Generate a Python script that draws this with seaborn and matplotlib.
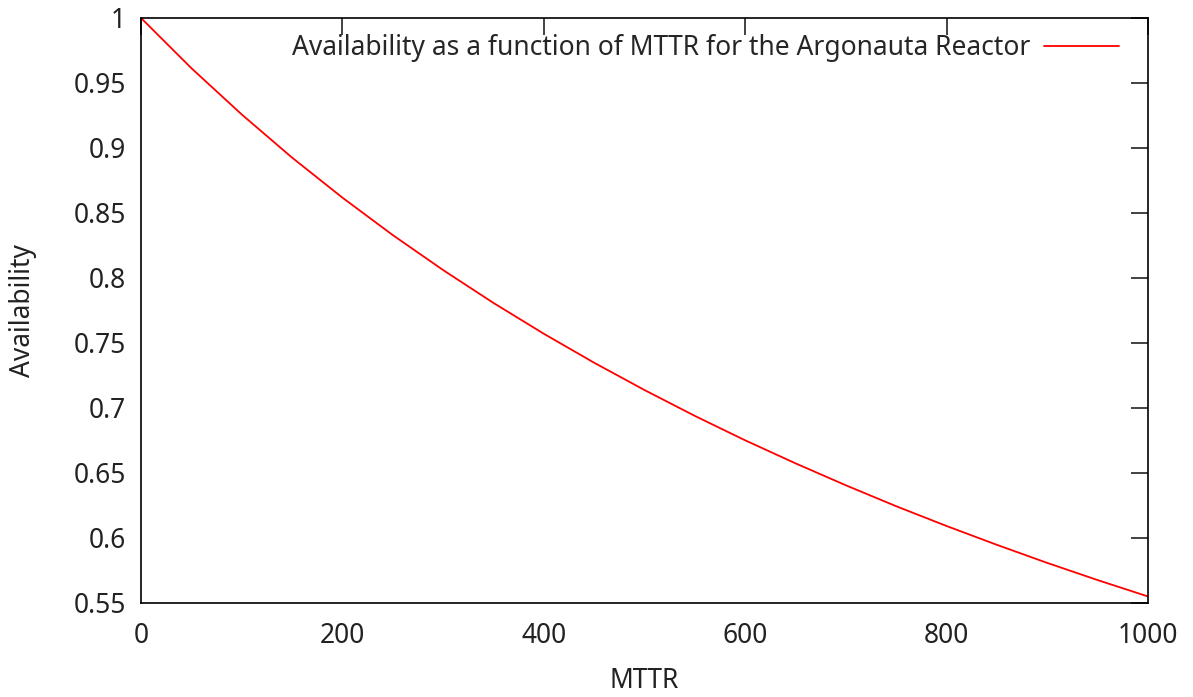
import matplotlib
matplotlib.use("Agg")
import matplotlib.pyplot as plt
import pandas as pd
import seaborn as sns
from matplotlib.ticker import FuncFormatter

# values
mttr = [0, 50, 100, 150, 200, 250, 300, 350, 400, 450, 500,
        550, 600, 650, 700, 750, 800, 850, 900, 950, 1000]
availability = [1.0, 0.9614, 0.9258, 0.8926, 0.8618, 0.8330, 0.8061, 0.7808,
                0.7571, 0.7348, 0.7138, 0.6939, 0.6751, 0.6574, 0.6405,
                0.6244, 0.6092, 0.5947, 0.5808, 0.5676, 0.5550]
x_ticks = [0, 200, 400, 600, 800, 1000]
y_ticks = [0.55, 0.6, 0.65, 0.7, 0.75, 0.8, 0.85, 0.9, 0.95, 1.0]
series_label = "Availability as a function of MTTR for the Argonauta Reactor"

df = pd.DataFrame({"MTTR": mttr, "Availability": availability})

sns.set_theme(style="white")
plt.rcParams["font.family"] = ["Noto Sans", "DejaVu Sans"]

fig = plt.figure(figsize=(11.93, 6.97), dpi=100)
ax = fig.add_axes([0.1182, 0.1349, 0.9623 - 0.1182, 0.9742 - 0.1349])

sns.lineplot(data=df, x="MTTR", y="Availability", color="#ff0000",
             linewidth=1.3, label=series_label, ax=ax)

ax.set_xlim(0, 1000)
ax.set_ylim(0.55, 1.0)
ax.set_xticks(x_ticks)
ax.set_yticks(y_ticks)
ax.yaxis.set_major_formatter(FuncFormatter(lambda v, p: f"{v:g}"))
ax.tick_params(direction="in", length=12, width=1.2, top=True, right=True,
               labelsize=19, colors="#222222")
ax.tick_params(axis="x", pad=14)
ax.tick_params(axis="y", pad=11)
for s in ax.spines.values():
    s.set_color("black")
    s.set_linewidth(1.2)

ax.set_xlabel("MTTR", fontsize=19, labelpad=12, color="#222222")
ax.set_ylabel("Availability", fontsize=19, labelpad=26, color="#222222")

ax.legend(loc="upper right", bbox_to_anchor=(0.979, 0.986), frameon=False,
          markerfirst=False, fontsize=19, handlelength=2.85,
          handletextpad=0.5, borderaxespad=0.0, borderpad=0.3)

fig.savefig("out.png", dpi=100)
